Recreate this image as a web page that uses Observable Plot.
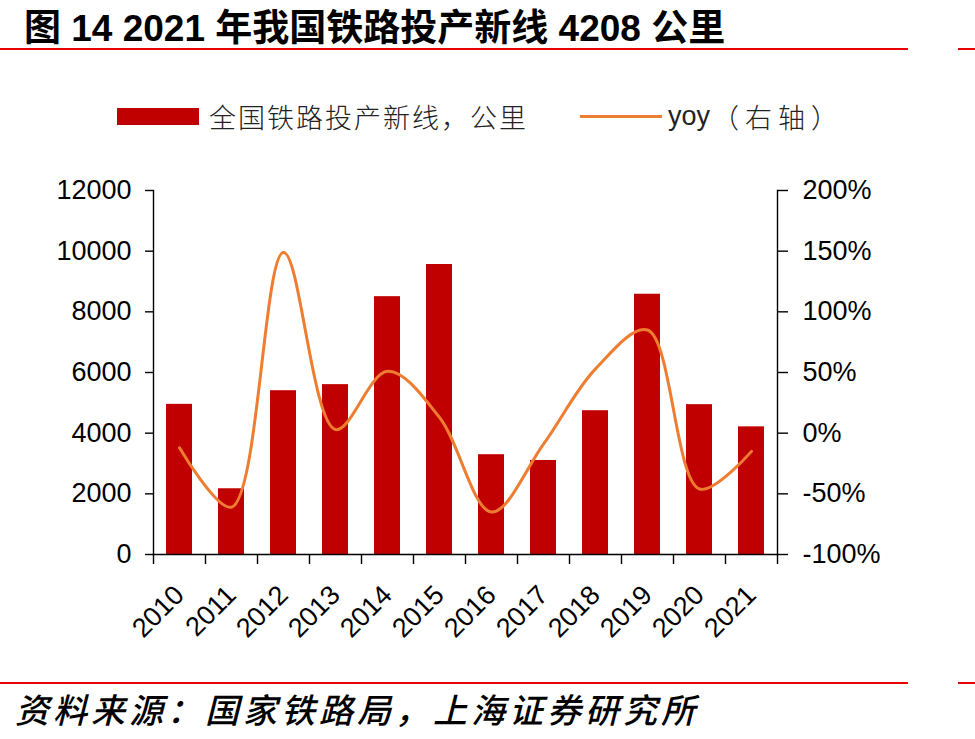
<!DOCTYPE html>
<html>
<head>
<meta charset="utf-8">
<script src="https://cdn.jsdelivr.net/npm/d3@7"></script>
<script src="https://cdn.jsdelivr.net/npm/@observablehq/plot@0.6"></script>
<style>
  html, body { margin: 0; padding: 0; background: #fff; }
  body { width: 975px; height: 739px; position: relative; overflow: hidden; }
  .title {
    position: absolute; left: 24px; top: -2px;
    font: bold 37px "Liberation Sans", "Noto Sans CJK SC", sans-serif;
    color: #000; white-space: nowrap;
  }
  .rule { position: absolute; height: 2px; background: #e60000; }
  .legend {
    position: absolute; top: 98px; left: 117px; height: 36px;
    display: flex; align-items: center; white-space: nowrap;
    font: 300 27px "Noto Sans CJK SC", sans-serif; color: #222;
  }
  .legend .swatch-bar { width: 82px; height: 17px; background: #C00000; margin-right: 10px; }
  .legend .swatch-line { width: 82px; height: 3px; background: #ED7D31; margin-left: 52px; margin-right: 6px; }
  .legend .lbl { letter-spacing: 2px; }
  .legend .lbl2 { letter-spacing: 6px; margin-left: 2px; }
  .legend .latin { font-family: "Liberation Sans", Arial, sans-serif; font-weight: 400; letter-spacing: 0; }
  #chart { position: absolute; left: 0; top: 150px; }
  .caption {
    position: absolute; left: 15px; top: 684px;
    font: italic 500 34px "Noto Sans CJK SC", sans-serif;
    letter-spacing: 4px; color: #000; white-space: nowrap;
  }
</style>
</head>
<body>
<div class="title">图 14 2021 年我国铁路投产新线 4208 公里</div>
<div class="rule" style="top:48px;left:0;width:908px"></div>
<div class="rule" style="top:48px;left:958px;width:17px"></div>

<div class="legend">
  <div class="swatch-bar"></div>
  <span class="lbl">全国铁路投产新线，公里</span>
  <div class="swatch-line"></div>
  <span class="latin">yoy</span><span class="lbl2">（右轴）</span>
</div>

<div id="chart"></div>

<div class="rule" style="top:682px;left:0;width:908px"></div>
<div class="rule" style="top:682px;left:958px;width:17px"></div>
<div class="caption">资料来源：国家铁路局，上海证券研究所</div>

<script>
// Railway new lines put into operation (km) and year-on-year change (%)
const years = ["2010", "2011", "2012", "2013", "2014", "2015", "2016", "2017", "2018", "2019", "2020", "2021"];
const newLineKm = [4950, 2167, 5400, 5600, 8500, 9560, 3290, 3100, 4740, 8580, 4940, 4208];
const yoyPct = [-12, -61, 149, 3, 51, 13, -65, -9, 53, 85, -46, -15];

const leftTicks = [0, 2000, 4000, 6000, 8000, 10000, 12000];
const rightTicks = [-100, -50, 0, 50, 100, 150, 200];

const data = years.map((year, i) => ({ year, km: newLineKm[i], yoy: yoyPct[i] }));

// The yoy series shares the plot's y scale: its right-hand domain [-100%, 200%]
// is mapped onto the left-hand domain [0, 12000].
const yoyToKm = d3.scaleLinear([-100, 200], [0, 12000]);

const width = 975, height = 520;
const marginLeft = 153, marginRight = 198, marginTop = 40, marginBottom = 116;
const step = (width - marginLeft - marginRight) / years.length;

const axisFont = '"Liberation Sans", Arial, sans-serif';

const chart = Plot.plot({
  width, height, marginLeft, marginRight, marginTop, marginBottom,
  style: { fontFamily: axisFont, fontSize: "27px", color: "#000", background: "transparent", overflow: "visible" },
  x: { type: "band", domain: years, paddingInner: 0.5, paddingOuter: 0.25, label: null },
  y: { domain: [0, 12000], label: null },
  marks: [
    Plot.barY(data, { x: "year", y: "km", fill: "#C00000" }),
    Plot.line(data, {
      x: "year", y: d => yoyToKm(d.yoy),
      curve: "catmull-rom", stroke: "#ED7D31", strokeWidth: 3
    }),
    Plot.frame({ anchor: "left", stroke: "#000", strokeWidth: 1.4 }),
    Plot.frame({ anchor: "right", stroke: "#000", strokeWidth: 1.4 }),
    Plot.frame({ anchor: "bottom", stroke: "#000", strokeWidth: 1.4 }),
    // left axis: kilometres
    Plot.axisY(leftTicks, {
      anchor: "left", tickSize: 8, tickPadding: 14, strokeWidth: 1.4,
      tickFormat: d => String(d), label: null
    }),
    // right axis: yoy in percent
    Plot.axisY(rightTicks.map(yoyToKm), {
      anchor: "right", tickSize: 10, tickPadding: 15, strokeWidth: 1.4,
      tickFormat: d => `${Math.round(yoyToKm.invert(d))}%`, label: null
    }),
    // year labels
    Plot.axisX({ anchor: "bottom", tickSize: 0, tickPadding: 36, tickRotate: -45, label: null }),
    // category boundary ticks
    Plot.axisX({ anchor: "bottom", tickSize: 10, strokeWidth: 1.4, tickFormat: () => "", dx: -step / 2, label: null }),
    Plot.axisX([years[years.length - 1]], { anchor: "bottom", tickSize: 10, strokeWidth: 1.4, tickFormat: () => "", dx: step / 2, label: null })
  ]
});

document.getElementById("chart").append(chart);
</script>
</body>
</html>
